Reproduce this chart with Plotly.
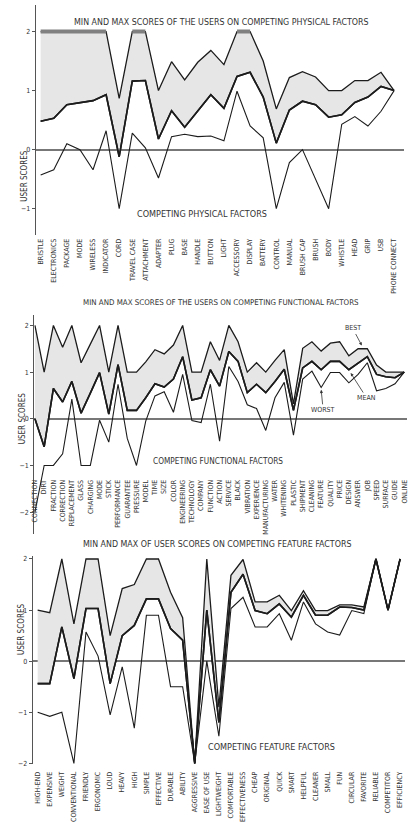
import plotly.graph_objects as go

# ---------------- data ----------------
phys_cats = ["BRISTLE", "ELECTRONICS", "PACKAGE", "MODE", "WIRELESS", "INDICATOR", "CORD",
             "TRAVEL CASE", "ATTACHMENT", "ADAPTER", "PLUG", "BASE", "HANDLE", "BUTTON",
             "LIGHT", "ACCESSORY", "DISPLAY", "BATTERY", "CONTROL", "MANUAL", "BRUSH CAP",
             "BRUSH", "BODY", "WHISTLE", "HEAD", "GRIP", "USB", "PHONE CONNECT"]
phys_max = [2, 2, 2, 2, 2, 2, 0.87, 2, 2, 1.0, 1.49, 1.18, 1.48, 1.68, 1.44, 2, 2, 1.5,
            0.69, 1.22, 1.32, 1.23, 1.0, 1.0, 1.17, 1.17, 1.31, 1.0]
phys_mean = [0.48, 0.53, 0.76, 0.79, 0.83, 0.93, -0.12, 1.16, 1.17, 0.18, 0.66, 0.38, 0.66,
             0.93, 0.7, 1.24, 1.31, 0.89, 0.11, 0.67, 0.82, 0.76, 0.55, 0.59, 0.8, 0.89,
             1.07, 1.0]
phys_min = [-0.43, -0.34, 0.1, 0.0, -0.34, 0.32, -1.0, 0.28, 0.03, -0.48, 0.22, 0.26, 0.22,
            0.23, 0.15, 0.99, 0.4, 0.2, -1.0, -0.22, 0.0, -0.5, -1.0, 0.43, 0.56, 0.4,
            0.65, 1.0]

func_cats = ["CONNECTION", "DIRT", "FRACTION", "CORRECTION", "REPLACEMENT", "GLASS",
             "CHARGING", "MODE", "STICK", "PERFORMANCE", "GUARANTEE", "PRESSURE", "MODEL",
             "TIME", "SIZE", "COLOR", "ENGINEERING", "TECHNOLOGY", "COMPANY", "FUNCTION",
             "ACTION", "SERVICE", "BLACK", "VIBRATION", "EXPERIENCE", "MANUFACTURING",
             "WATER", "WHITENING", "PLASTIC", "SHIPMENT", "CLEANING", "FEATURE", "QUALITY",
             "PRICE", "DESIGN", "ANSWER", "JOB", "SPEED", "SURFACE", "GUIDE", "ONLINE"]
func_max = [2.0, 1.0, 2.0, 1.53, 2.0, 1.2, 1.6, 2.0, 1.0, 2.0, 1.0, 1.0, 1.22, 1.48, 1.39,
            1.58, 2.0, 1.0, 1.0, 1.65, 1.25, 2.0, 1.65, 1.0, 1.2, 1.0, 1.25, 1.48, 0.32,
            1.51, 1.65, 1.45, 1.62, 1.65, 1.35, 1.5, 1.5, 1.15, 1.0, 1.0, 1.0]
func_mean = [0.0, -0.6, 0.65, 0.36, 0.8, 0.12, 0.55, 0.99, 0.1, 1.16, 0.18, 0.18, 0.45,
             0.75, 0.68, 0.85, 1.33, 0.4, 0.45, 1.05, 0.7, 1.44, 1.23, 0.56, 0.74, 0.56,
             0.8, 1.06, 0.18, 1.09, 1.23, 1.05, 1.23, 1.23, 1.05, 1.2, 1.33, 0.95, 0.9,
             0.88, 1.0]
func_min = [-2.0, -1.0, -1.0, -0.75, 0.42, -1.0, -1.0, -0.03, -0.5, 0.74, -0.42, -1.0,
            -0.05, 0.49, 0.58, 0.14, 0.95, -0.04, -0.08, 0.74, -0.48, 1.12, 0.8, 0.3, 0.22,
            -0.25, 0.45, 0.78, -0.35, 0.85, 1.02, 0.67, 0.99, 0.99, 0.77, 0.95, 1.2, 0.6,
            0.65, 0.75, 1.0]

feat_cats = ["HIGH-END", "EXPENSIVE", "WEIGHT", "CONVENTIONAL", "FRIENDLY", "ERGONOMIC",
             "LOUD", "HEAVY", "HIGH", "SIMPLE", "EFFECTIVE", "DURABLE", "ABILITY",
             "AGGRESSIVE", "EASE OF USE", "LIGHTWEIGHT", "COMFORTABLE", "EFFECTIVENESS",
             "CHEAP", "ORIGINAL", "QUICK", "SMART", "HELPFUL", "CLEANER", "SMALL", "FUN",
             "CIRCULAR", "FAVORITE", "RELIABLE", "COMPETITOR", "EFFICIENCY"]
feat_max = [1.0, 0.95, 2.0, 0.73, 2.0, 2.0, 0.5, 1.42, 1.5, 2.0, 2.0, 1.35, 0.85, -2.0,
            2.0, -0.9, 1.68, 1.99, 1.16, 1.16, 1.29, 0.99, 1.38, 0.99, 0.99, 1.1, 1.1,
            1.06, 2.0, 1.0, 2.0]
feat_mean = [-0.44, -0.44, 0.67, -0.34, 1.03, 1.03, -0.44, 0.5, 0.7, 1.22, 1.22, 0.64,
             0.41, -2.0, 1.0, -1.2, 1.35, 1.7, 0.99, 0.93, 1.12, 0.86, 1.29, 0.9, 0.9,
             1.06, 1.05, 1.0, 2.0, 1.0, 2.0]
feat_min = [-1.0, -1.08, -1.0, -2.0, 0.57, 0.1, -1.05, -0.11, -1.31, 0.9, 0.9, -0.5, -0.5,
            -2.0, 0.0, -1.47, 1.03, 1.25, 0.67, 0.67, 0.93, 0.41, 1.16, 0.73, 0.57, 0.51,
            0.99, 0.93, 2.0, 1.0, 2.0]

# ---------------- styling ----------------
W, H = 411, 822
FONT = "Liberation Sans Narrow, DejaVu Sans Condensed, Arial Narrow, sans-serif"
TXT = "#333333"
LINE = "#1c1c1c"
FILL = "#e6e6e6"


def py(p):
    return 1 - p / H


def pxx(p):
    return p / W


panels = [
    dict(cats=phys_cats, mx=phys_max, mn=phys_mean, lo=phys_min,
         xdom=(33, 405), xr=(-0.38, 27.76), ydom=(5, 237), yr=(-1.45, 2.45),
         xpos=238, ticks=[-1, 0, 1, 2]),
    dict(cats=func_cats, mx=func_max, mn=func_mean, lo=func_min,
         xdom=(31.5, 408), xr=(-0.08, 40.3), ydom=(317, 538), yr=(-2.47, 2.23),
         xpos=481, ticks=[-2, -1, 0, 1, 2]),
    dict(cats=feat_cats, mx=feat_max, mn=feat_mean, lo=feat_min,
         xdom=(30, 406), xr=(-0.41, 30.41), ydom=(560, 770), yr=(-2.02, 2.06),
         xpos=775, ticks=[-2, -1, 0, 1, 2]),
]

fig = go.Figure()
layout = {}
for i, p in enumerate(panels, start=1):
    xa, ya = f"x{i}", f"y{i}"
    # shaded band between best and mean
    fig.add_trace(go.Scatter(x=p["cats"], y=p["mn"], xaxis=xa, yaxis=ya, mode="lines",
                             line=dict(color=LINE, width=1.6), showlegend=False,
                             hoverinfo="skip"))
    fig.add_trace(go.Scatter(x=p["cats"], y=p["mx"], xaxis=xa, yaxis=ya, mode="lines",
                             line=dict(color=LINE, width=1.3), fill="tonexty",
                             fillcolor=FILL, showlegend=False))
    fig.add_trace(go.Scatter(x=p["cats"], y=p["lo"], xaxis=xa, yaxis=ya, mode="lines",
                             line=dict(color=LINE, width=1.1), showlegend=False))
    fig.add_trace(go.Scatter(x=p["cats"], y=p["mn"], xaxis=xa, yaxis=ya, mode="lines",
                             line=dict(color=LINE, width=1.6), showlegend=False))
    if i == 1:
        # top cap where the best score reaches the maximum of 2
        capped = [v if v >= 2 else None for v in p["mx"]]
        fig.add_trace(go.Scatter(x=p["cats"], y=capped, xaxis=xa, yaxis=ya, mode="lines",
                                 line=dict(color="#808080", width=4), showlegend=False,
                                 connectgaps=False))

    xkey = "xaxis" if i == 1 else f"xaxis{i}"
    ykey = "yaxis" if i == 1 else f"yaxis{i}"
    layout[xkey] = dict(
        domain=[pxx(p["xdom"][0]), pxx(p["xdom"][1])], range=list(p["xr"]),
        type="category", anchor="free", position=py(p["xpos"]),
        showline=False, showgrid=False, zeroline=False, ticks="",
        tickangle=-90, tickfont=dict(family=FONT, size=7, color=TXT),
        categoryorder="array", categoryarray=p["cats"],
    )
    layout[ykey] = dict(
        domain=[py(p["ydom"][1]), py(p["ydom"][0])], range=list(p["yr"]),
        anchor=xa, showline=True, linecolor="#555555", linewidth=1,
        showgrid=False, zeroline=True, zerolinecolor="#777777", zerolinewidth=1.6,
        tickvals=p["ticks"], ticks="outside", ticklen=3, tickcolor="#555555",
        tickfont=dict(family=FONT, size=7, color=TXT),
    )

ann = []


def label(text, x, y, size=7.5, angle=0):
    ann.append(dict(text=text, x=pxx(x), y=py(y), xref="paper", yref="paper",
                    showarrow=False, textangle=angle,
                    font=dict(family=FONT, size=size, color=TXT)))


label("MIN AND MAX SCORES OF THE USERS ON COMPETING PHYSICAL FACTORS", 221, 15, 8.8)
label("COMPETING PHYSICAL FACTORS", 201, 209, 9)
label("USER SCORES", 15, 150, 8, -90)

label("MIN AND MAX SCORES OF THE USERS ON COMPETING FUNCTIONAL FACTORS", 220, 305, 7.9)
label("COMPETING FUNCTIONAL FACTORS", 217, 464, 8.2)
label("USER SCORES", 14, 422, 8, -90)

label("MIN AND MAX OF USER SCORES ON COMPETING FEATURE FACTORS", 216, 548, 8.8)
label("COMPETING FEATURE FACTORS", 271, 760, 9)
label("USER SCORES", 12, 662, 8, -90)

for txt, xh, yh, ax, ay in [("BEST", 35.4, 1.57, -9, -17),
                            ("WORST", 31.0, 0.62, 2, 20),
                            ("MEAN", 34.2, 0.98, 16, 25)]:
    ann.append(dict(text=txt, x=xh, y=yh, xref="x2", yref="y2", showarrow=True,
                    ax=ax, ay=ay, arrowhead=2, arrowsize=0.8, arrowwidth=0.8,
                    arrowcolor=TXT, font=dict(family=FONT, size=7, color=TXT)))

fig.update_layout(
    width=W, height=H, margin=dict(l=0, r=0, t=0, b=0),
    paper_bgcolor="white", plot_bgcolor="white",
    annotations=ann, **layout,
)

fig.write_html("out.html")
